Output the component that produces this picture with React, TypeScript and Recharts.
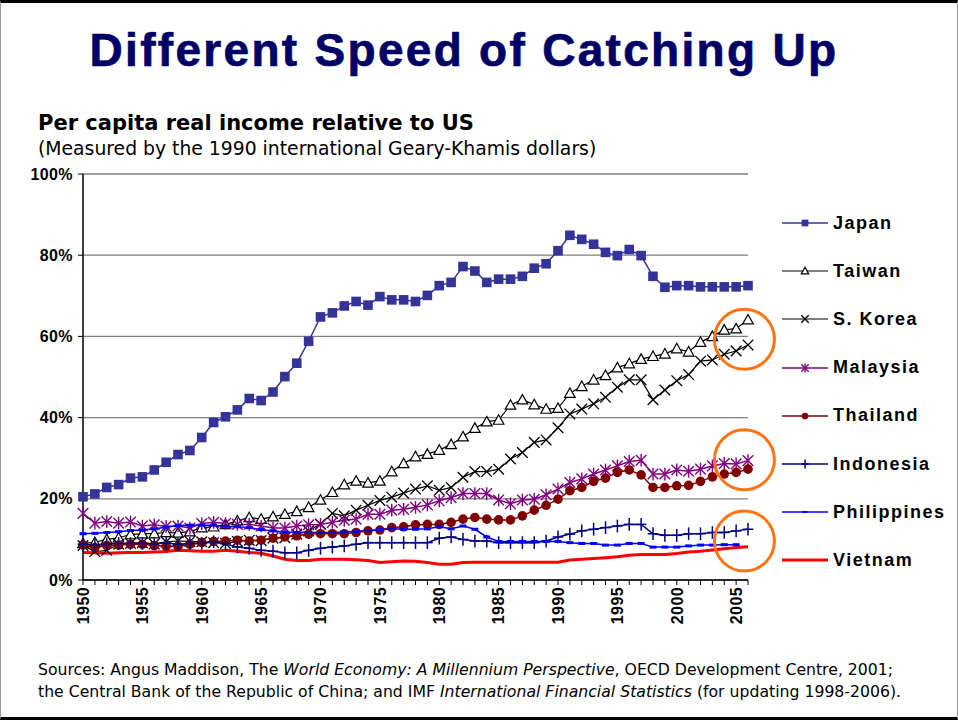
import React from 'react';
import {
  LineChart,
  Line,
  XAxis,
  YAxis,
  CartesianGrid,
  ReferenceDot,
} from 'recharts';

const years = [
  1950, 1951, 1952, 1953, 1954, 1955, 1956, 1957, 1958, 1959,
  1960, 1961, 1962, 1963, 1964, 1965, 1966, 1967, 1968, 1969,
  1970, 1971, 1972, 1973, 1974, 1975, 1976, 1977, 1978, 1979,
  1980, 1981, 1982, 1983, 1984, 1985, 1986, 1987, 1988, 1989,
  1990, 1991, 1992, 1993, 1994, 1995, 1996, 1997, 1998, 1999,
  2000, 2001, 2002, 2003, 2004, 2005, 2006,
];

const japan = [
  20.5, 21.2, 22.8, 23.5, 25.1, 25.4, 27.1, 29.0, 30.9, 31.9,
  35.1, 38.8, 40.2, 41.9, 44.7, 44.2, 46.3, 50.1, 53.4, 58.8,
  64.8, 65.8, 67.5, 68.6, 67.7, 69.8, 69.0, 69.0, 68.6, 70.1,
  72.5, 73.3, 77.2, 76.1, 73.3, 74.1, 74.1, 74.8, 76.8, 77.9,
  81.1, 84.9, 83.9, 82.7, 80.7, 79.9, 81.4, 79.9, 74.8, 72.1,
  72.5, 72.5, 72.2, 72.2, 72.2, 72.2, 72.5,
];
const taiwan = [
  9.0, 9.3, 10.0, 10.4, 11.2, 11.4, 11.4, 11.7, 11.6, 11.9,
  12.9, 13.1, 13.7, 14.6, 15.4, 15.0, 15.6, 16.2, 16.9, 17.9,
  19.7, 21.6, 23.5, 24.4, 23.9, 24.4, 26.7, 28.7, 30.4, 31.0,
  32.0, 33.4, 35.3, 37.4, 39.0, 39.4, 43.1, 44.4, 43.2, 42.1,
  42.3, 46.0, 47.7, 49.3, 50.4, 52.3, 53.3, 54.4, 55.1, 55.7,
  57.0, 56.2, 58.6, 60.0, 61.6, 61.9, 64.1,
];
const korea = [
  8.5, 7.0, 7.3, 8.8, 9.0, 9.2, 8.9, 9.4, 9.6, 9.5,
  9.4, 9.2, 9.0, 9.5, 9.8, 9.7, 10.3, 10.4, 11.3, 12.1,
  13.8, 16.4, 15.8, 17.2, 18.4, 19.6, 20.4, 21.4, 22.4, 23.2,
  22.1, 22.8, 25.3, 26.7, 26.7, 27.3, 29.8, 31.4, 33.9, 34.5,
  37.5, 40.9, 42.1, 43.4, 45.0, 47.5, 49.3, 49.3, 44.4, 46.8,
  49.1, 50.6, 53.9, 54.2, 55.6, 56.4, 57.9,
];
const malaysia = [
  16.4, 14.0, 14.4, 14.0, 14.3, 13.3, 13.6, 13.2, 13.3, 12.8,
  13.9, 14.2, 13.9, 13.7, 13.7, 13.3, 12.8, 12.8, 13.3, 13.6,
  13.7, 14.2, 14.7, 15.0, 16.2, 16.2, 17.2, 17.4, 17.9, 18.5,
  19.5, 20.3, 21.3, 21.3, 21.3, 19.7, 18.8, 19.7, 19.9, 21.0,
  22.4, 24.0, 24.9, 26.1, 27.1, 28.1, 29.2, 29.5, 26.1, 26.1,
  27.1, 26.8, 27.3, 28.1, 28.7, 28.6, 29.4,
];
const thailand = [
  8.6, 8.0, 8.5, 8.6, 8.8, 8.8, 8.5, 8.3, 8.3, 8.8,
  9.2, 9.5, 9.6, 9.8, 9.6, 9.8, 10.3, 10.6, 10.9, 11.3,
  11.4, 11.4, 11.4, 11.7, 12.1, 12.3, 12.9, 13.1, 13.6, 13.7,
  13.7, 14.2, 15.0, 15.4, 15.0, 14.8, 14.8, 15.8, 17.2, 18.4,
  19.9, 22.0, 22.8, 24.3, 25.1, 26.5, 27.1, 25.9, 22.8, 22.8,
  23.2, 23.3, 24.3, 25.4, 26.1, 26.5, 27.3,
];
const indonesia = [
  8.8, 8.6, 8.9, 9.0, 9.0, 9.0, 8.9, 9.1, 8.8, 9.0,
  9.0, 9.4, 8.9, 8.1, 7.8, 7.3, 7.1, 6.7, 6.7, 7.3,
  7.8, 8.1, 8.4, 8.8, 9.2, 9.2, 9.2, 9.2, 9.2, 9.2,
  10.3, 10.6, 10.0, 9.6, 9.6, 9.2, 9.2, 9.2, 9.2, 9.6,
  10.6, 11.3, 12.1, 12.5, 12.9, 13.3, 13.7, 13.7, 11.4, 11.0,
  11.0, 11.4, 11.4, 11.7, 11.7, 12.1, 12.5,
];
const philippines = [
  11.4, 11.5, 11.7, 11.9, 12.2, 12.3, 12.6, 13.0, 13.4, 13.5,
  13.5, 13.5, 13.2, 13.1, 12.9, 12.4, 12.1, 11.8, 11.7, 11.7,
  11.7, 11.7, 11.8, 12.0, 12.2, 12.4, 12.6, 12.5, 12.5, 12.6,
  13.1, 12.6, 13.3, 12.5, 10.6, 9.5, 9.5, 9.5, 9.5, 9.5,
  9.5, 9.2, 9.0, 9.0, 8.6, 8.6, 9.0, 9.0, 8.1, 8.1,
  8.1, 8.4, 8.6, 8.6, 8.7, 8.7, null,
];
const vietnam = [
  6.8, 6.7, 6.6, 6.7, 6.8, 6.8, 6.9, 7.0, 7.3, 7.2,
  7.1, 7.1, 7.3, 7.1, 6.8, 6.6, 5.9, 5.1, 4.8, 4.8,
  5.1, 5.1, 5.1, 5.0, 4.8, 4.3, 4.5, 4.7, 4.6, 4.3,
  3.9, 3.9, 4.3, 4.4, 4.4, 4.4, 4.4, 4.4, 4.4, 4.4,
  4.4, 4.9, 5.1, 5.3, 5.5, 5.7, 6.1, 6.3, 6.3, 6.3,
  6.5, 6.9, 7.1, 7.4, 7.7, 8.0, 8.2,
];

const yTicks = [0, 20, 40, 60, 80, 100];
// orange rings drawn around the latest values
const ringYear = 2005.7;
const ringLevels = [59.3, 29.6, 9.6];

const data = years.map((year, i) => ({
  year,
  japan: japan[i],
  taiwan: taiwan[i],
  korea: korea[i],
  malaysia: malaysia[i],
  thailand: thailand[i],
  indonesia: indonesia[i],
  philippines: philippines[i],
  vietnam: vietnam[i],
}));

type Kind = 'square' | 'triangle' | 'x' | 'star' | 'circle' | 'plus' | 'dash' | 'none';

const series: { key: string; name: string; color: string; width: number; kind: Kind }[] = [
  { key: 'japan', name: 'Japan', color: '#333399', width: 1.5, kind: 'square' },
  { key: 'taiwan', name: 'Taiwan', color: '#000000', width: 1.2, kind: 'triangle' },
  { key: 'korea', name: 'S. Korea', color: '#000000', width: 1.2, kind: 'x' },
  { key: 'malaysia', name: 'Malaysia', color: '#800080', width: 1.5, kind: 'star' },
  { key: 'thailand', name: 'Thailand', color: '#800000', width: 1.5, kind: 'circle' },
  { key: 'indonesia', name: 'Indonesia', color: '#000080', width: 1.5, kind: 'plus' },
  { key: 'philippines', name: 'Philippines', color: '#0000FF', width: 1.5, kind: 'dash' },
  { key: 'vietnam', name: 'Vietnam', color: '#FF0000', width: 3, kind: 'none' },
];

function Marker({ kind, cx, cy, color, s = 1 }: { kind: Kind; cx: number; cy: number; color: string; s?: number }) {
  const h = 5.3 * s;
  switch (kind) {
    case 'square':
      return <rect x={cx - 4.8 * s} y={cy - 4.8 * s} width={9.6 * s} height={9.6 * s} fill={color} />;
    case 'triangle':
      return (
        <path
          d={`M${cx},${cy - h} L${cx + h},${cy + 4.2 * s} L${cx - h},${cy + 4.2 * s} Z`}
          fill="#fff"
          stroke="#000"
          strokeWidth={1.2}
        />
      );
    case 'x':
      return (
        <g stroke={color} strokeWidth={1.3}>
          <line x1={cx - h} y1={cy - h} x2={cx + h} y2={cy + h} />
          <line x1={cx - h} y1={cy + h} x2={cx + h} y2={cy - h} />
        </g>
      );
    case 'star':
      return (
        <g stroke={color} strokeWidth={1.4}>
          <line x1={cx - h} y1={cy - h} x2={cx + h} y2={cy + h} />
          <line x1={cx - h} y1={cy + h} x2={cx + h} y2={cy - h} />
          <line x1={cx} y1={cy - h * 1.2} x2={cx} y2={cy + h * 1.2} />
        </g>
      );
    case 'circle':
      return <circle cx={cx} cy={cy} r={4.8 * s} fill={color} />;
    case 'plus':
      return (
        <g stroke={color} strokeWidth={1.5}>
          <line x1={cx - h} y1={cy} x2={cx + h} y2={cy} />
          <line x1={cx} y1={cy - h * 1.2} x2={cx} y2={cy + h * 1.2} />
        </g>
      );
    case 'dash':
      return <rect x={cx - 3.5 * s} y={cy - 1.5 * s} width={7 * s} height={3 * s} fill={color} />;
    default:
      return null;
  }
}

function YearTick(props: any) {
  const { x, y, payload } = props;
  if (payload.value % 5 !== 0) return <g />;
  return (
    <text
      transform={`translate(${x},${y}) rotate(-90)`}
      textAnchor="end"
      dy="0.36em"
      fontSize={16}
      fontWeight="bold"
      letterSpacing={0.4}
      fontFamily='"Liberation Sans", Arial, sans-serif'
      fill="#000"
    >
      {payload.value}
    </text>
  );
}

const tahoma = '"DejaVu Sans", Verdana, sans-serif';

export default function App() {
  return (
    <div
      style={{
        position: 'absolute',
        left: 0,
        top: 0,
        width: 958,
        height: 720,
        background: '#fff',
        boxSizing: 'border-box',
        borderTop: '3px solid #000',
        borderBottom: '3px solid #000',
        borderLeft: '1px solid #999',
        borderRight: '1px solid #999',
        overflow: 'hidden',
      }}
    >
      <div
        style={{
          position: 'absolute',
          left: -16,
          top: 22,
          width: 958,
          textAlign: 'center',
          fontFamily: '"Liberation Sans", Arial, sans-serif',
          fontWeight: 'bold',
          fontSize: 46,
          letterSpacing: 2.3,
          color: '#000066',
          WebkitTextStroke: '0.7px #000066',
          lineHeight: '50px',
        }}
      >
        Different Speed of Catching Up
      </div>
      <div
        style={{
          position: 'absolute',
          left: 37,
          top: 107,
          fontFamily: tahoma,
          fontWeight: 'bold',
          fontSize: 21,
          lineHeight: '26px',
          color: '#000',
          whiteSpace: 'nowrap',
        }}
      >
        Per capita real income relative to US
      </div>
      <div
        style={{
          position: 'absolute',
          left: 37,
          top: 134,
          fontFamily: tahoma,
          fontSize: 18.8,
          lineHeight: '23px',
          color: '#000',
          whiteSpace: 'nowrap',
        }}
      >
        (Measured by the 1990 international Geary-Khamis dollars)
      </div>

      <div style={{ position: 'absolute', left: 0, top: 0 }}>
        <LineChart
          width={958}
          height={720}
          data={data}
          margin={{ top: 171, right: 211, bottom: 93, left: 0 }}
        >
          <CartesianGrid vertical={false} stroke="#808080" strokeWidth={1.3} />
          <XAxis
            dataKey="year"
            type="number"
            domain={[1950, 2006]}
            ticks={years}
            interval={0}
            tick={<YearTick />}
            tickSize={5}
            tickMargin={2}
            height={50}
            axisLine={{ stroke: '#000', strokeWidth: 1.5 }}
            tickLine={{ stroke: '#000' }}
          />
          <XAxis
            xAxisId="top"
            orientation="top"
            dataKey="year"
            type="number"
            domain={[1950, 2006]}
            tick={false}
            tickLine={false}
            height={0}
            axisLine={{ stroke: '#000', strokeWidth: 1.5 }}
          />
          <YAxis
            domain={[0, 100]}
            ticks={yTicks}
            width={82}
            tickSize={5}
            tickMargin={5}
            tickFormatter={(v: number) => `${v}%`}
            tick={{
              fontSize: 16,
              fontWeight: 'bold',
              fill: '#000',
              letterSpacing: 0.4,
              fontFamily: '"Liberation Sans", Arial, sans-serif',
            }}
            axisLine={{ stroke: '#000', strokeWidth: 1.5 }}
            tickLine={{ stroke: '#000' }}
          />
          <YAxis
            yAxisId="right"
            orientation="right"
            domain={[0, 100]}
            width={0}
            tick={false}
            tickLine={false}
            axisLine={{ stroke: '#000', strokeWidth: 1.5 }}
          />
          {series.map((s) => (
            <Line
              key={s.key}
              type="linear"
              dataKey={s.key}
              name={s.name}
              stroke={s.color}
              strokeWidth={s.width}
              isAnimationActive={false}
              connectNulls={false}
              activeDot={false}
              dot={
                s.kind === 'none'
                  ? false
                  : (p: any) =>
                      p.cy == null || p.value == null ? (
                        <g key={p.key} />
                      ) : (
                        <Marker key={p.key} kind={s.kind} cx={p.cx} cy={p.cy} color={s.color} />
                      )
              }
            />
          ))}
          {ringLevels.map((v, i) => (
            <ReferenceDot
              key={i}
              x={ringYear}
              y={v}
              r={30}
              fill="none"
              stroke="#FF7410"
              strokeWidth={3}
              ifOverflow="visible"
            />
          ))}
        </LineChart>
      </div>

      <div style={{ position: 'absolute', left: 781, top: 196 }}>
        {series.map((s) => (
          <div key={s.key} style={{ display: 'flex', alignItems: 'center', height: 48.2 }}>
            <svg width={47} height={20} style={{ display: 'block' }}>
              <line x1={0} y1={10} x2={46} y2={10} stroke={s.color} strokeWidth={s.width} />
              <Marker kind={s.kind} cx={23} cy={10} color={s.color} s={0.7} />
            </svg>
            <span
              style={{
                marginLeft: 4,
                fontFamily: '"Liberation Sans", Arial, sans-serif',
                fontWeight: 'bold',
                fontSize: 18,
                letterSpacing: 1.5,
                color: '#000',
              }}
            >
              {s.name}
            </span>
          </div>
        ))}
      </div>

      <div
        style={{
          position: 'absolute',
          left: 37,
          top: 656,
          fontFamily: tahoma,
          fontSize: 15.7,
          lineHeight: '22px',
          color: '#000',
          whiteSpace: 'nowrap',
        }}
      >
        Sources: Angus Maddison, The <i>World Economy: A Millennium Perspective</i>, OECD Development Centre, 2001;
        <br />
        the Central Bank of the Republic of China; and IMF <i>International Financial Statistics</i> (for updating 1998-2006).
      </div>
    </div>
  );
}
